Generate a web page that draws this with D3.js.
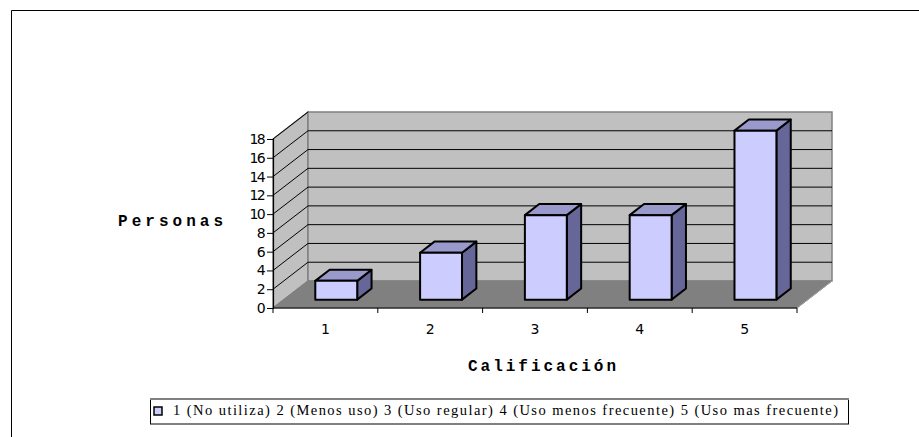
<!DOCTYPE html>
<html>
<head>
<meta charset="utf-8">
<script src="https://cdn.jsdelivr.net/npm/d3@7/dist/d3.min.js"></script>
<style>
  html, body { margin: 0; padding: 0; background: #fff; }
  svg { display: block; }
</style>
</head>
<body>
<svg id="chart" width="919" height="437"></svg>
<script>
// Ratings (Calificación) and number of people per rating
const categories = ["1", "2", "3", "4", "5"];
const personas = [2, 5, 9, 9, 18];
const yTicks = [0, 2, 4, 6, 8, 10, 12, 14, 16, 18];
const legendLabel = "1 (No utiliza) 2 (Menos uso) 3 (Uso regular) 4 (Uso menos frecuente) 5 (Uso mas frecuente)";
const xTitle = "Calificación";
const yTitle = "Personas";

const svg = d3.select("#chart");

// Plot frame (front plane) and oblique depth offset
const front = { left: 273, right: 797, bottom: 308, top: 139 };
const depth = { dx: 35, dy: -27 };
const barDepth = [0.31, 0.72];   // bar front/back as fraction of floor depth
const barWidthFrac = 0.4;

const x = d3.scaleBand().domain(categories).range([front.left, front.right]).paddingInner(0).paddingOuter(0);
const y = d3.scaleLinear().domain([0, 18]).range([front.bottom, front.top]);

// Outer chart border
svg.append("path")
  .attr("d", "M11.5,437 L11.5,10.5 L919,10.5")
  .attr("fill", "none").attr("stroke", "#000").attr("stroke-width", 1);

const pt = (px, py, d) => [px + depth.dx * d, py + depth.dy * d];
const poly = pts => "M" + pts.map(p => p.join(",")).join("L") + "Z";

// Side wall
svg.append("path")
  .attr("d", poly([pt(front.left, y(0), 0), pt(front.left, y(18), 0), pt(front.left, y(18), 1), pt(front.left, y(0), 1)]))
  .attr("fill", "#c0c0c0").attr("stroke", "#808080").attr("stroke-width", 1.5);

// Back wall
svg.append("path")
  .attr("d", poly([pt(front.left, y(0), 1), pt(front.left, y(18), 1), pt(front.right, y(18), 1), pt(front.right, y(0), 1)]))
  .attr("fill", "#c0c0c0").attr("stroke", "#808080").attr("stroke-width", 1.5);

// Gridlines on back wall and side wall
const grid = svg.append("g").attr("stroke", "#000").attr("stroke-width", 1).attr("fill", "none");
yTicks.filter(v => v > 0 && v < 18).forEach(v => {
  const a = pt(front.left, y(v), 1), b = pt(front.right, y(v), 1);
  grid.append("line").attr("x1", a[0]).attr("y1", a[1]).attr("x2", b[0]).attr("y2", b[1]);
});
yTicks.filter(v => v > 0).forEach(v => {
  const a = pt(front.left, y(v), 0), b = pt(front.left, y(v), 1);
  grid.append("line").attr("x1", a[0]).attr("y1", a[1]).attr("x2", b[0]).attr("y2", b[1]);
});

// Floor
svg.append("path")
  .attr("d", poly([pt(front.left, y(0), 0), pt(front.right, y(0), 0), pt(front.right, y(0), 1), pt(front.left, y(0), 1)]))
  .attr("fill", "#808080").attr("stroke", "#808080").attr("stroke-width", 1);
{
  const a = pt(front.right, y(0), 0), b = pt(front.right, y(0), 1);
  svg.append("line").attr("x1", a[0]).attr("y1", a[1]).attr("x2", b[0]).attr("y2", b[1])
    .attr("stroke", "#a0a0a0").attr("stroke-width", 1);
}

// 3D bars
const bars = svg.append("g").attr("stroke", "#000").attr("stroke-width", 2).attr("stroke-linejoin", "round");
categories.forEach((c, i) => {
  const bw = x.bandwidth() * barWidthFrac;
  const x0 = x(c) + (x.bandwidth() - bw) / 2;
  const x1 = x0 + bw;
  const yb = y(0), yt = y(personas[i]);
  const [d0, d1] = barDepth;
  // side face
  bars.append("path").attr("fill", "#666699")
    .attr("d", poly([pt(x1, yb, d0), pt(x1, yt, d0), pt(x1, yt, d1), pt(x1, yb, d1)]));
  // top face
  bars.append("path").attr("fill", "#9999cc")
    .attr("d", poly([pt(x0, yt, d0), pt(x1, yt, d0), pt(x1, yt, d1), pt(x0, yt, d1)]));
  // front face
  bars.append("path").attr("fill", "#ccccff")
    .attr("d", poly([pt(x0, yb, d0), pt(x1, yb, d0), pt(x1, yt, d0), pt(x0, yt, d0)]));
});

// Y axis
const yAxis = d3.axisLeft(y).tickValues(yTicks).tickSize(6).tickPadding(3);
const yg = svg.append("g").attr("transform", `translate(${front.left},0)`).call(yAxis);
yg.select(".domain").attr("stroke", "#000").attr("stroke-width", 1.2);
yg.selectAll(".tick line").attr("stroke", "#000");
yg.selectAll(".tick text")
  .attr("font-family", "DejaVu Sans").attr("font-size", 14).attr("letter-spacing", -1.6).attr("fill", "#000");

// X axis: labels centred in categories, ticks on category boundaries
const xAxis = d3.axisBottom(x).tickSize(0).tickPadding(16);
const xg = svg.append("g").attr("transform", `translate(0,${front.bottom})`).call(xAxis);
xg.select(".domain").remove();
xg.selectAll(".tick text")
  .attr("font-family", "DejaVu Sans").attr("font-size", 14).attr("fill", "#000");
svg.append("line")
  .attr("x1", front.left).attr("x2", front.right).attr("y1", front.bottom).attr("y2", front.bottom)
  .attr("stroke", "#000").attr("stroke-width", 1.2);
const bounds = categories.map(c => x(c)).concat([x(categories[categories.length - 1]) + x.bandwidth()]);
svg.append("g").selectAll("line").data(bounds).join("line")
  .attr("x1", d => d).attr("x2", d => d)
  .attr("y1", front.bottom).attr("y2", front.bottom + 5)
  .attr("stroke", "#000").attr("stroke-width", 1);

// Axis titles
svg.append("text")
  .attr("x", 118).attr("y", 226)
  .attr("font-family", "Liberation Mono").attr("font-weight", "bold").attr("font-size", 16)
  .attr("textLength", 105).attr("lengthAdjust", "spacing")
  .text(yTitle);
svg.append("text")
  .attr("x", 468).attr("y", 371)
  .attr("font-family", "Liberation Mono").attr("font-weight", "bold").attr("font-size", 16)
  .attr("textLength", 148).attr("lengthAdjust", "spacing")
  .text(xTitle);

// Legend
const lg = svg.append("g");
lg.append("rect").attr("x", 150.5).attr("y", 399.5).attr("width", 698).attr("height", 24.5)
  .attr("fill", "#fff").attr("stroke", "#000").attr("stroke-width", 1);
lg.append("line").attr("x1", 150).attr("x2", 849).attr("y1", 399).attr("y2", 399)
  .attr("stroke", "#808080").attr("stroke-width", 2);
lg.append("rect").attr("x", 154).attr("y", 407).attr("width", 8).attr("height", 8)
  .attr("fill", "#ccccff").attr("stroke", "#000").attr("stroke-width", 1.5);
lg.append("text")
  .attr("x", 173).attr("y", 415)
  .attr("font-family", "Liberation Serif").attr("font-size", 14.5)
  .attr("textLength", 665).attr("lengthAdjust", "spacing")
  .text(legendLabel);
</script>
</body>
</html>
